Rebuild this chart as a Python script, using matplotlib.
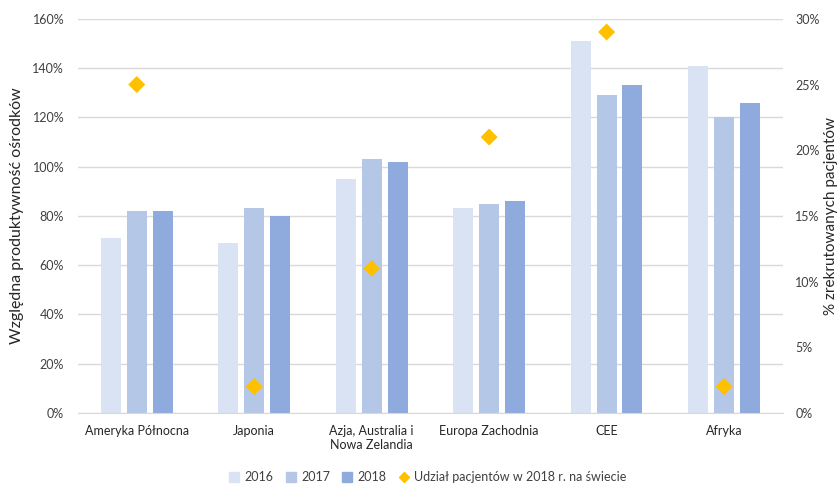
import numpy as np
import matplotlib.pyplot as plt
from matplotlib.ticker import PercentFormatter
from matplotlib.lines import Line2D

plt.rcParams['font.family'] = ['Lato', 'DejaVu Sans']

regions = ['Ameryka Północna', 'Japonia', 'Azja, Australia i\nNowa Zelandia',
           'Europa Zachodnia', 'CEE', 'Afryka']
prod_2016 = [71, 69, 95, 83, 151, 141]
prod_2017 = [82, 83, 103, 85, 129, 120]
prod_2018 = [82, 80, 102, 86, 133, 126]
share_2018 = [25, 2, 11, 21, 29, 2]

colors = ['#DAE3F3', '#B4C7E7', '#8FAADC']
years = ['2016', '2017', '2018']

fig = plt.figure(figsize=(8.39, 4.84), dpi=100)
ax = fig.add_axes([0.093, 0.147, 0.840, 0.814])
ax2 = ax.twinx()

x = np.arange(len(regions))
w = 0.17
step = 0.22
for i, (vals, c, yr) in enumerate(zip([prod_2016, prod_2017, prod_2018], colors, years)):
    ax.bar(x + (i - 1) * step, vals, width=w, color=c, label=yr, zorder=2)

ax2.scatter(x, share_2018, marker='D', s=75, color='#FFC000', zorder=3,
            edgecolors='none')

ax.set_xlim(-0.5, len(regions) - 0.5)
ax.set_ylim(0, 160)
ax.set_yticks(np.arange(0, 161, 20))
ax.yaxis.set_major_formatter(PercentFormatter(decimals=0))
ax2.set_ylim(0, 30)
ax2.set_yticks(np.arange(0, 31, 5))
ax2.yaxis.set_major_formatter(PercentFormatter(decimals=0))

ax.grid(axis='y', color='#D9D9D9', linewidth=1, zorder=0)
ax.set_axisbelow(True)
for a in (ax, ax2):
    for s in a.spines.values():
        s.set_visible(False)
    a.tick_params(length=0, labelsize=9, colors='#404040')
ax.spines['bottom'].set_visible(True)
ax.spines['bottom'].set_color('#D9D9D9')

ax.set_xticks(x)
ax.set_xticklabels(regions, fontsize=9, color='#262626')
ax.tick_params(axis='x', pad=9)
ax.tick_params(axis='y', pad=10)
ax2.tick_params(axis='y', pad=9)

ax.set_ylabel('Względna produktywność ośrodków', fontsize=11.5, color='#262626', labelpad=6)
ax2.set_ylabel('% zrekrutowanych pacjentów', fontsize=11, color='#262626', labelpad=3)

handles = [plt.Rectangle((0, 0), 1, 1, color=c) for c in colors]
handles.append(Line2D([], [], marker='D', color='#FFC000', linestyle='none', markersize=5))
fig.legend(handles, years + ['Udział pacjentów w 2018 r. na świecie'],
           loc='lower center', bbox_to_anchor=(0.51, -0.022), ncol=4, frameon=False,
           fontsize=9, handlelength=0.8, handleheight=0.8, handletextpad=0.4,
           columnspacing=1.0, labelcolor='#404040')

fig.savefig('out.png', dpi=100)
